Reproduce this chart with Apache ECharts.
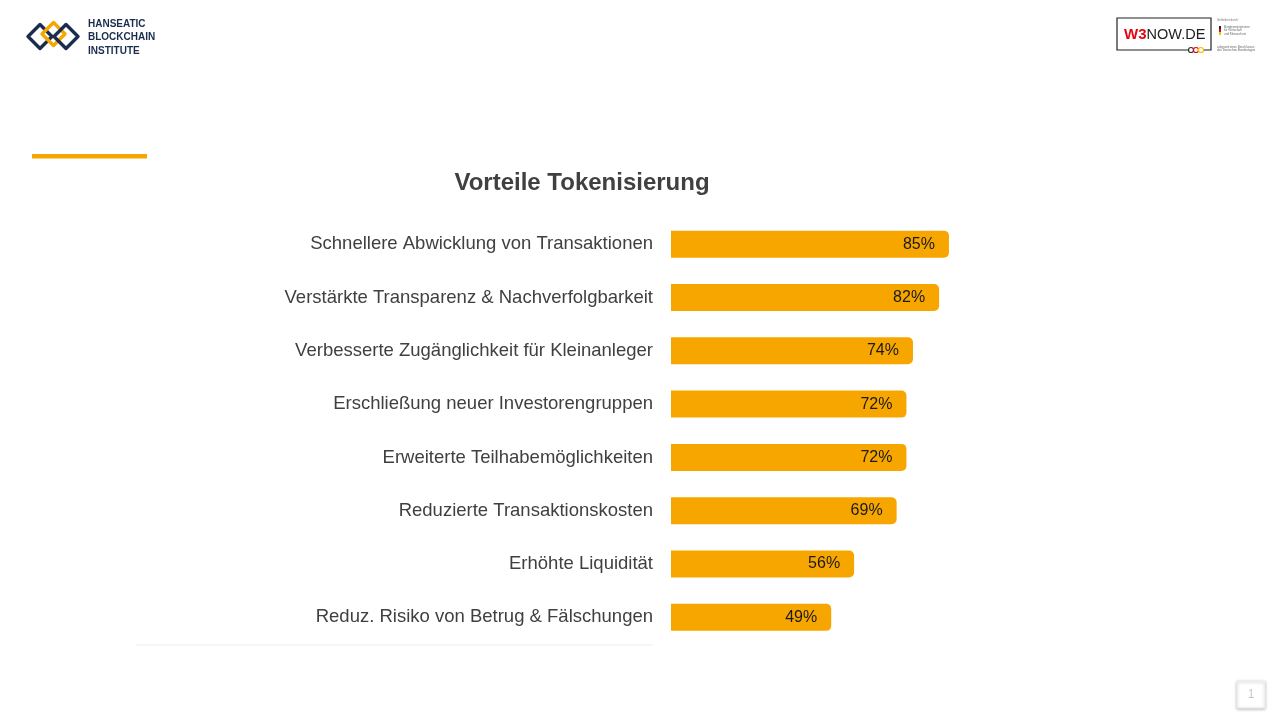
<!DOCTYPE html>
<html><head><meta charset="utf-8">
<script src="https://cdn.jsdelivr.net/npm/echarts@6/dist/echarts.min.js"></script>
<style>html,body{margin:0;padding:0;background:#fff}#c{width:1280px;height:720px}</style>
</head><body><div id="c"></div>
<script>
const categories = [
  'Schnellere Abwicklung von Transaktionen',
  'Verstärkte Transparenz & Nachverfolgbarkeit',
  'Verbesserte Zugänglichkeit für Kleinanleger',
  'Erschließung neuer Investorengruppen',
  'Erweiterte Teilhabemöglichkeiten',
  'Reduzierte Transaktionskosten',
  'Erhöhte Liquidität',
  'Reduz. Risiko von Betrug & Fälschungen'
];
const values = [85, 82, 74, 72, 72, 69, 56, 49];
const title = 'Vorteile Tokenisierung';

const ORANGE = '#F7A600';
const NAVY = '#1B2D4F';
const chart = echarts.init(document.getElementById('c'), null, {renderer: 'canvas'});

function diamond(cx, cy, r, color) {
  return {type: 'polygon', shape: {points: [[cx, cy - r], [cx + r, cy], [cx, cy + r], [cx - r, cy]]},
    style: {fill: 'none', stroke: color, lineWidth: 3.4, lineJoin: 'round'}};
}

chart.setOption({
  animation: false,
  grid: {left: 671, width: 327, top: 217.5, height: 426.5, containLabel: false},
  xAxis: {type: 'value', min: 0, max: 100, show: false},
  yAxis: {type: 'category', data: categories, inverse: true,
    axisLine: {show: false}, axisTick: {show: false},
    axisLabel: {margin: 18, fontFamily: 'Liberation Sans, Arial, sans-serif', fontSize: 18.5, color: '#404040'}},
  series: [{type: 'bar', data: values, barWidth: 27,
    itemStyle: {color: ORANGE, borderRadius: [0, 5, 5, 0]},
    label: {show: true, position: 'insideRight', distance: 14, formatter: '{c}%',
      fontFamily: 'Liberation Sans, Arial, sans-serif', fontSize: 16, color: '#1a1a1a'}}],
  graphic: [
    {type: 'text', style: {x: 582, y: 183, text: title, align: 'center', verticalAlign: 'middle', fill: '#404040',
      font: 'bold 24px Liberation Sans, Arial, sans-serif'}},
    {type: 'rect', shape: {x: 32, y: 154, width: 115, height: 4.5}, style: {fill: ORANGE}},
    {type: 'line', shape: {x1: 136, y1: 645, x2: 653, y2: 645}, style: {stroke: '#EDEDED', lineWidth: 1.2}},
    // Hanseatic logo
    diamond(40, 36.5, 12, NAVY),
    diamond(53.5, 34, 11.5, ORANGE),
    diamond(66, 36.5, 12, NAVY),
    {type: 'text', style: {x: 88, y: 17, text: 'HANSEATIC\nBLOCKCHAIN\nINSTITUTE', fill: NAVY,
      font: 'bold 10px Liberation Sans, Arial, sans-serif', lineHeight: 13.5}},
    // W3NOW logo
    {type: 'rect', shape: {x: 1117, y: 18, width: 94, height: 32}, style: {fill: '#fff', stroke: '#222', lineWidth: 1.2}},
    {type: 'text', style: {x: 1124, y: 27, rich: {r: {fill: '#E30613', font: 'bold 15px Liberation Sans, Arial, sans-serif'},
      b: {fill: '#222', font: '14.5px Liberation Sans, Arial, sans-serif'}}, text: '{r|W3}{b|NOW.DE}'}},
    {type: 'circle', shape: {cx: 1191, cy: 50, r: 2.5}, style: {fill: '#fff', stroke: '#333', lineWidth: 1.2}},
    {type: 'circle', shape: {cx: 1196, cy: 50, r: 2.5}, style: {fill: '#fff', stroke: '#E30613', lineWidth: 1.2}},
    {type: 'circle', shape: {cx: 1201, cy: 50, r: 2.5}, style: {fill: '#fff', stroke: '#F2C200', lineWidth: 1.2}},
    {type: 'text', style: {x: 1217, y: 19, text: 'Gefördert durch:', fill: '#777', font: '3px sans-serif'}},
    {type: 'rect', shape: {x: 1219, y: 26, width: 2, height: 3}, style: {fill: '#222'}},
    {type: 'rect', shape: {x: 1219, y: 29, width: 2, height: 3}, style: {fill: '#E30613'}},
    {type: 'rect', shape: {x: 1219, y: 32, width: 2, height: 3}, style: {fill: '#F2C200'}},
    {type: 'text', style: {x: 1224, y: 25, text: 'Bundesministerium\nfür Wirtschaft\nund Klimaschutz', fill: '#666', font: '3px sans-serif', lineHeight: 3.5}},
    {type: 'text', style: {x: 1217, y: 45, text: 'aufgrund eines Beschlusses\ndes Deutschen Bundestages', fill: '#666', font: '3px sans-serif', lineHeight: 3.5}},
    // page number box
    {type: 'rect', shape: {x: 1237, y: 681, width: 28, height: 27},
      style: {fill: '#fff', stroke: '#eee', lineWidth: 1, shadowBlur: 3, shadowColor: 'rgba(0,0,0,0.25)', shadowOffsetY: 1}},
    {type: 'text', style: {x: 1251, y: 695, text: '1', fill: '#c8c8c8', font: '12px Liberation Sans, Arial, sans-serif', align: 'center', verticalAlign: 'middle'}}
  ]
});
</script></body></html>
